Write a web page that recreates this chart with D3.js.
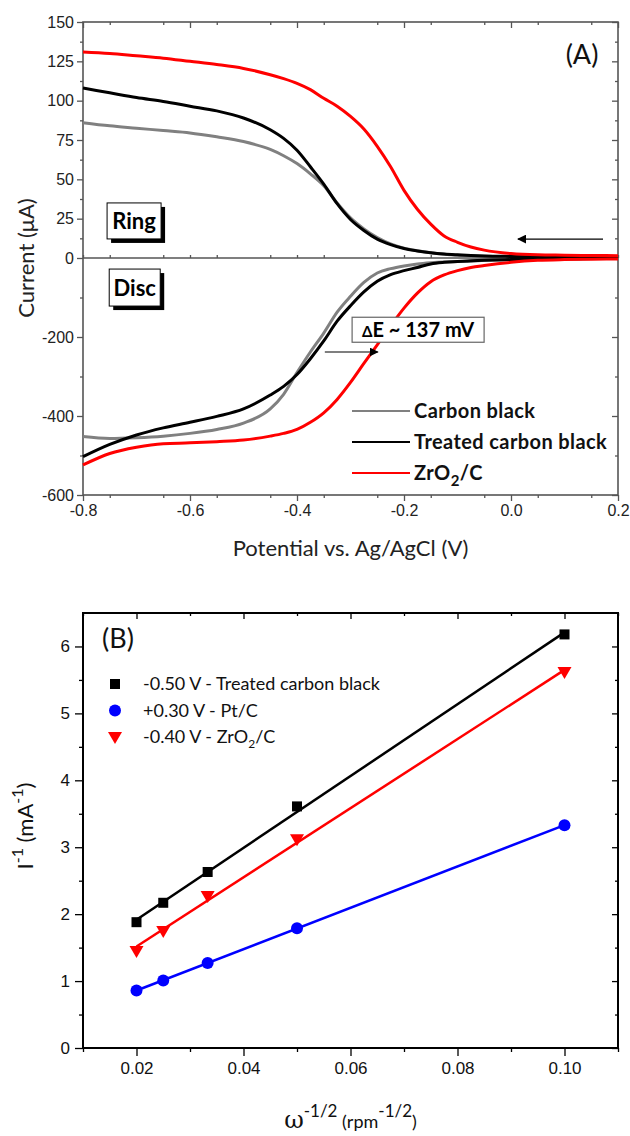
<!DOCTYPE html>
<html>
<head>
<meta charset="utf-8">
<script src="https://d3js.org/d3.v7.min.js"></script>
<style>
  body { margin: 0; background: #fff; }
  svg { font-family: Lato, "Open Sans", sans-serif; }
</style>
</head>
<body>
<div id="chart"></div>
<script>
// ---- panel (A): RRDE currents vs potential ----
var potential = [-0.8, -0.75, -0.7, -0.65, -0.6, -0.55, -0.5, -0.45, -0.425, -0.4, -0.375, -0.35, -0.325, -0.3,
  -0.275, -0.25, -0.225, -0.2, -0.175, -0.15, -0.125, -0.1, -0.075, -0.05, 0, 0.05, 0.1, 0.15, 0.2];

var ringCarbon = [86, 84, 82.5, 81, 79.5, 77, 74, 69, 65, 60, 53.5, 46, 35, 25.5,
  18.5, 13, 9, 6.3, 4.6, 3.3, 2.4, 1.8, 1.4, 1.1, 0.8, 0.6, 0.5, 0.5, 0.5];
var ringTreated = [108, 105, 102, 99.5, 96.5, 93.5, 89, 81.5, 76, 68.5, 58, 47, 34.5, 24.5,
  17.5, 12, 8.5, 6, 4.5, 3.3, 2.5, 2, 1.6, 1.3, 1, 0.8, 0.7, 0.7, 0.7];
var ringZrO2 = [131, 130, 128.5, 127, 125, 123, 120.5, 116.5, 114, 111, 107, 101.5, 96.5, 90,
  82, 71, 58, 43, 31, 21.5, 14, 10, 7, 5, 2.8, 2, 1.8, 1.6, 1.5];

var discCarbon = [-452, -457, -455, -451, -444, -434, -418, -382, -345, -290, -238, -190, -137, -97,
  -62, -38, -27, -20, -15, -12, -10, -9, -8, -6, -4, -3, -2, -1.5, -1];
var discTreated = [-503, -472, -448, -430, -416, -401, -382, -347, -325, -295, -255, -210, -160, -121,
  -86, -59, -42, -32, -24, -15, -11, -9, -7, -5.5, -4, -3, -2, -1.5, -1];
var discZrO2 = [-524, -495, -479, -470, -468, -465, -461, -451, -444, -434, -416, -392, -358, -315,
  -267, -220, -172, -127, -89, -60, -43, -32, -24, -19, -11, -6, -4, -3, -2.5];

var seriesA = ["Carbon black", "Treated carbon black", "ZrO2/C"];
var colorsA = ["#808080", "#000000", "#ff0000"];

var xTicksA = [-0.8, -0.6, -0.4, -0.2, 0.0, 0.2];
var yTicksA = [-600, -400, -200, 0, 25, 50, 75, 100, 125, 150];

// ---- panel (B): Koutecky-Levich ----
var omega = [0.02, 0.025, 0.0333, 0.05, 0.10];
var invTreated = [1.88, 2.17, 2.63, 3.61, 6.18];
var invPt = [0.86, 1.01, 1.27, 1.79, 3.33];
var invZrO2 = [1.45, 1.75, 2.27, 3.12, 5.62];

var xTicksB = [0.02, 0.04, 0.06, 0.08, 0.10];
var yTicksB = [0, 1, 2, 3, 4, 5, 6];

var W = 630, H = 1136;
var L = 83, R = 618;

var svg = d3.select("#chart").append("svg")
  .attr("width", W).attr("height", H);

var defs = svg.append("defs");
defs.append("marker")
  .attr("id", "head")
  .attr("viewBox", "0 0 10 10")
  .attr("refX", 9).attr("refY", 5)
  .attr("markerWidth", 9).attr("markerHeight", 9)
  .attr("markerUnits", "userSpaceOnUse")
  .attr("orient", "auto")
  .append("path").attr("d", "M0,0 L10,5 L0,10 z").attr("fill", "#000");

// ============ panel A ============
var xA = d3.scaleLinear().domain([-0.8, 0.2]).range([L, R]);
var yA = d3.scaleLinear().domain([-600, 0, 150]).range([495, 258, 22]);
var frameA = "#555";

var gA = svg.append("g");

function tickAxis(g, axis, transform) {
  var a = g.append("g").attr("transform", transform).call(axis);
  a.select(".domain").remove();
  a.selectAll("line").attr("stroke", g.attr("data-c") || "#000").attr("stroke-width", 1.3);
  return a;
}

gA.attr("data-c", frameA);
var minorXA = d3.range(-0.8, 0.2001, 0.05).filter(function (v) { return Math.abs(Math.round(v * 10) - v * 10) > 0.01; });
var minorYA = [-500, -300, -100, 12.5, 37.5, 62.5, 87.5, 112.5, 137.5];

// bottom (outward) and top (inward)
tickAxis(gA, d3.axisBottom(xA).tickValues(xTicksA).tickSize(6).tickPadding(4)
  .tickFormat(function (d) { return d.toFixed(1); }), "translate(0,495)")
  .selectAll("text").attr("font-size", 16).attr("fill", "#222");
tickAxis(gA, d3.axisBottom(xA).tickValues(minorXA).tickSize(3).tickFormat(""), "translate(0,495)");
tickAxis(gA, d3.axisTop(xA).tickValues(xTicksA).tickSize(-6).tickFormat(""), "translate(0,22)");
tickAxis(gA, d3.axisTop(xA).tickValues(minorXA).tickSize(-3).tickFormat(""), "translate(0,22)");
// zero line ticks
tickAxis(gA, d3.axisTop(xA).tickValues(xTicksA.concat(minorXA)).tickSize(3).tickFormat(""), "translate(0," + yA(0) + ")");
// left (outward) and right (inward)
tickAxis(gA, d3.axisLeft(yA).tickValues(yTicksA).tickSize(6).tickPadding(3)
  .tickFormat(function (d) { return d; }), "translate(" + L + ",0)")
  .selectAll("text").attr("font-size", 16).attr("fill", "#222");
tickAxis(gA, d3.axisLeft(yA).tickValues(minorYA).tickSize(3).tickFormat(""), "translate(" + L + ",0)");
tickAxis(gA, d3.axisRight(yA).tickValues(yTicksA).tickSize(-6).tickFormat(""), "translate(" + R + ",0)");
tickAxis(gA, d3.axisRight(yA).tickValues(minorYA).tickSize(-3).tickFormat(""), "translate(" + R + ",0)");

gA.append("rect")
  .attr("x", L).attr("y", yA(150))
  .attr("width", R - L).attr("height", yA(-600) - yA(150))
  .attr("fill", "none").attr("stroke", frameA).attr("stroke-width", 1.6);
gA.append("line")
  .attr("x1", L).attr("x2", R).attr("y1", yA(0)).attr("y2", yA(0))
  .attr("stroke", frameA).attr("stroke-width", 1.3);

var lineA = d3.line()
  .x(function (d) { return xA(d[0]); })
  .y(function (d) { return yA(d[1]); })
  .curve(d3.curveMonotoneX);

var ringSets = [ringCarbon, ringTreated, ringZrO2];
var discSets = [discCarbon, discTreated, discZrO2];
[0, 1, 2].forEach(function (i) {
  [ringSets[i], discSets[i]].forEach(function (vals) {
    gA.append("path")
      .datum(potential.map(function (p, k) { return [p, vals[k]]; }))
      .attr("d", lineA)
      .attr("fill", "none")
      .attr("stroke", colorsA[i])
      .attr("stroke-width", 3)
      .attr("stroke-linejoin", "round");
  });
});

// axis titles
svg.append("text")
  .attr("transform", "translate(34," + yA(0) + ") rotate(-90)")
  .attr("text-anchor", "middle").attr("font-size", 22).attr("fill", "#222")
  .text("Current (\u03bcA)");
svg.append("text")
  .attr("x", (L + R) / 2).attr("y", 556)
  .attr("text-anchor", "middle").attr("font-size", 22).attr("fill", "#222")
  .text("Potential vs. Ag/AgCl (V)");

svg.append("text")
  .attr("x", 582).attr("y", 64)
  .attr("text-anchor", "middle").attr("font-size", 27).attr("fill", "#111")
  .text("(A)");

// Ring / Disc boxes
function labelBox(x0, y0, w, h, txt) {
  gA.append("rect").attr("x", x0 + 4).attr("y", y0 + 4).attr("width", w).attr("height", h).attr("fill", "#000");
  gA.append("rect").attr("x", x0).attr("y", y0).attr("width", w).attr("height", h)
    .attr("fill", "#fff").attr("stroke", "#000").attr("stroke-width", 1);
  gA.append("text").attr("x", x0 + w / 2).attr("y", y0 + h / 2 + 8)
    .attr("text-anchor", "middle").attr("font-size", 22).attr("font-weight", "bold")
    .text(txt);
}
labelBox(xA(-0.755), yA(35), 54, 36, "Ring");
labelBox(xA(-0.751), yA(-28), 51, 37, "Disc");

// scan direction arrow
gA.append("line")
  .attr("x1", xA(0.172)).attr("x2", xA(0.013))
  .attr("y1", yA(12)).attr("y2", yA(12))
  .attr("stroke", "#000").attr("stroke-width", 1.2)
  .attr("marker-end", "url(#head)");

// delta E annotation
gA.append("rect")
  .attr("x", xA(-0.297)).attr("y", yA(-150))
  .attr("width", 132).attr("height", 25)
  .attr("fill", "#fff").attr("stroke", "#666").attr("stroke-width", 1.2);
var dE = gA.append("text")
  .attr("x", xA(-0.297) + 66).attr("y", yA(-150) + 20)
  .attr("text-anchor", "middle").attr("font-size", 20).attr("font-weight", "bold");
dE.append("tspan").attr("font-size", 15).text("\u0394");
dE.append("tspan").text("E ~ 137 mV");
gA.append("line")
  .attr("x1", xA(-0.348)).attr("x2", xA(-0.249))
  .attr("y1", yA(-238)).attr("y2", yA(-238))
  .attr("stroke", "#000").attr("stroke-width", 1.1)
  .attr("marker-end", "url(#head)");

// legend A
var legA = gA.append("g");
seriesA.forEach(function (name, i) {
  var yy = 411 + i * 31;
  legA.append("line").attr("x1", 352).attr("x2", 410).attr("y1", yy).attr("y2", yy)
    .attr("stroke", colorsA[i]).attr("stroke-width", 2);
  var t = legA.append("text").attr("x", 414).attr("y", yy + 7)
    .attr("font-size", 20).attr("font-weight", "bold").attr("fill", "#111")
    .attr("letter-spacing", 0.4);
  if (name === "ZrO2/C") {
    t.append("tspan").text("ZrO");
    t.append("tspan").attr("font-size", 15).attr("dy", 6).text("2");
    t.append("tspan").attr("dy", -6).text("/C");
  } else {
    t.text(name);
  }
});

// ============ panel B ============
var xB = d3.scaleLinear().domain([0.01, 0.11]).range([L, R]);
var yB = d3.scaleLinear().domain([0, 6.5]).range([1048, 613]);
var gB = svg.append("g").attr("data-c", "#000");

var minorXB = [0.01, 0.03, 0.05, 0.07, 0.09, 0.11];
var minorYB = [0.5, 1.5, 2.5, 3.5, 4.5, 5.5];

tickAxis(gB, d3.axisBottom(xB).tickValues(xTicksB).tickSize(8).tickPadding(6)
  .tickFormat(function (d) { return d.toFixed(2); }), "translate(0,1048)")
  .selectAll("text").attr("font-size", 17).attr("fill", "#111");
tickAxis(gB, d3.axisBottom(xB).tickValues(minorXB).tickSize(4).tickFormat(""), "translate(0,1048)");
tickAxis(gB, d3.axisTop(xB).tickValues(xTicksB).tickSize(-6).tickFormat(""), "translate(0,613)");
tickAxis(gB, d3.axisTop(xB).tickValues(minorXB).tickSize(-3).tickFormat(""), "translate(0,613)");
tickAxis(gB, d3.axisLeft(yB).tickValues(yTicksB).tickSize(8).tickPadding(5)
  .tickFormat(function (d) { return d; }), "translate(" + L + ",0)")
  .selectAll("text").attr("font-size", 17).attr("fill", "#111");
tickAxis(gB, d3.axisLeft(yB).tickValues(minorYB).tickSize(4).tickFormat(""), "translate(" + L + ",0)");
tickAxis(gB, d3.axisRight(yB).tickValues(yTicksB).tickSize(-6).tickFormat(""), "translate(" + R + ",0)");
tickAxis(gB, d3.axisRight(yB).tickValues(minorYB).tickSize(-3).tickFormat(""), "translate(" + R + ",0)");

gB.append("rect")
  .attr("x", L).attr("y", yB(6.5))
  .attr("width", R - L).attr("height", yB(0) - yB(6.5))
  .attr("fill", "none").attr("stroke", "#000").attr("stroke-width", 2);

function linFit(xs, ys) {
  var mx = d3.mean(xs), my = d3.mean(ys);
  var sxy = d3.sum(xs, function (x, i) { return (x - mx) * (ys[i] - my); });
  var sxx = d3.sum(xs, function (x) { return (x - mx) * (x - mx); });
  var b = sxy / sxx;
  return function (x) { return my + b * (x - mx); };
}

var seriesB = [
  { name: "-0.50 V - Treated carbon black", vals: invTreated, color: "#000000", shape: "square" },
  { name: "+0.30 V - Pt/C", vals: invPt, color: "#0000ff", shape: "circle" },
  { name: "-0.40 V - ZrO2/C", vals: invZrO2, color: "#ff0000", shape: "tri" }
];

function marker(g, shape, cx, cy, color) {
  if (shape === "square") {
    g.append("rect").attr("x", cx - 5).attr("y", cy - 5).attr("width", 10).attr("height", 10).attr("fill", color);
  } else if (shape === "circle") {
    g.append("circle").attr("cx", cx).attr("cy", cy).attr("r", 6).attr("fill", color);
  } else {
    g.append("path").attr("d", "M" + (cx - 7) + "," + (cy - 5) + " L" + (cx + 7) + "," + (cy - 5) + " L" + cx + "," + (cy + 7) + " Z")
      .attr("fill", color);
  }
}

seriesB.forEach(function (s) {
  var f = linFit(omega, s.vals);
  var xs = [d3.min(omega), d3.max(omega)];
  gB.append("line")
    .attr("x1", xB(xs[0])).attr("y1", yB(f(xs[0])))
    .attr("x2", xB(xs[1])).attr("y2", yB(f(xs[1])))
    .attr("stroke", s.color).attr("stroke-width", 2.5);
  omega.forEach(function (w, k) { marker(gB, s.shape, xB(w), yB(s.vals[k]), s.color); });
});

// legend B
seriesB.forEach(function (s, i) {
  var yy = 684 + i * 26.5;
  marker(gB, s.shape, 115, yy, s.color);
  var t = gB.append("text").attr("x", 143).attr("y", yy + 6).attr("font-size", 18).attr("fill", "#111");
  if (s.shape === "tri") {
    t.append("tspan").text("-0.40 V - ZrO");
    t.append("tspan").attr("font-size", 12).attr("dy", 5).text("2");
    t.append("tspan").attr("dy", -5).text("/C");
  } else {
    t.text(s.name);
  }
});

svg.append("text")
  .attr("x", 118).attr("y", 648)
  .attr("text-anchor", "middle").attr("font-size", 27).attr("fill", "#111")
  .text("(B)");

// axis titles B
var yt = svg.append("text")
  .attr("transform", "translate(33,826) rotate(-90)")
  .attr("text-anchor", "middle").attr("font-size", 22).attr("fill", "#111");
yt.append("tspan").text("I");
yt.append("tspan").attr("font-size", 16).attr("dy", -10).text("-1");
yt.append("tspan").attr("dy", 10).text(" (mA");
yt.append("tspan").attr("font-size", 16).attr("dy", -10).text("-1");
yt.append("tspan").attr("dy", 10).text(")");

var xt = svg.append("text")
  .attr("x", (L + R) / 2).attr("y", 1128)
  .attr("text-anchor", "middle").attr("fill", "#111");
xt.append("tspan").attr("font-family", "'DejaVu Serif', 'Liberation Serif', serif").attr("font-size", 24).text("\u03c9");
xt.append("tspan").attr("font-size", 17).attr("dy", -11).text("-1/2");
xt.append("tspan").attr("font-size", 18).attr("dy", 11).text(" (rpm");
xt.append("tspan").attr("font-size", 17).attr("dy", -11).text("-1/2");
xt.append("tspan").attr("font-size", 18).attr("dy", 11).text(")");
</script>
</body>
</html>
